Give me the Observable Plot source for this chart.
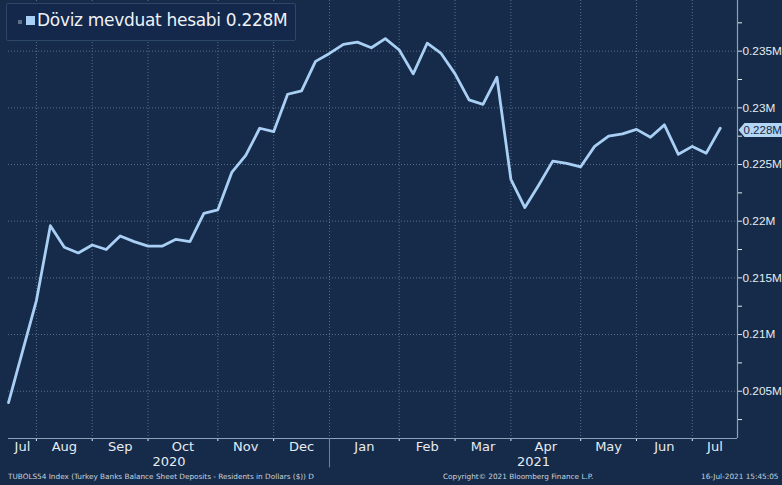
<!DOCTYPE html>
<html>
<head>
<meta charset="utf-8">
<script src="https://cdn.jsdelivr.net/npm/d3@7"></script>
<script src="https://cdn.jsdelivr.net/npm/@observablehq/plot@0.6"></script>
<style>
  html, body { margin: 0; padding: 0; background: #152b49; }
  #wrap { position: relative; width: 782px; height: 485px; overflow: hidden; background: #152b49; font-family: "DejaVu Sans", sans-serif; }
  #legend { position: absolute; left: 6px; top: 3px; width: 288px; height: 36px; border: 1px solid #2d4766; background: #13284a; border-radius: 2px; }
  #legend .dim { position: absolute; left: 11px; top: 16px; width: 4px; height: 4px; background: #5d7088; }
  #legend .sw { position: absolute; left: 19px; top: 12px; width: 9px; height: 9px; background: #a9cff5; }
  #legend .txt { position: absolute; left: 30px; top: 6px; font-size: 17px; color: #eef2f7; white-space: nowrap; letter-spacing: -0.3px; }
  .foot { position: absolute; top: 472px; font-size: 7.3px; color: #c9d3de; white-space: nowrap; }
</style>
</head>
<body>
<div id="wrap">
  <div id="chart"></div>
  <div id="legend"><div class="dim"></div><div class="sw"></div><div class="txt" id="legtxt"></div></div>
  <div class="foot" style="left:8px">TUBOLS54 Index (Turkey Banks Balance Sheet Deposits - Residents in Dollars ($)) D</div>
  <div class="foot" style="left:443px">Copyright© 2021 Bloomberg Finance L.P.</div>
  <div class="foot" style="left:701px">16-Jul-2021 15:45:05</div>
</div>
<script>
// ---- data ----
const seriesName = "Döviz mevduat hesabi";
const dates = [
  "2020-07-24","2020-07-31","2020-08-07","2020-08-14","2020-08-21","2020-08-28",
  "2020-09-04","2020-09-11","2020-09-18","2020-09-25","2020-10-02","2020-10-09",
  "2020-10-16","2020-10-23","2020-10-30","2020-11-06","2020-11-13","2020-11-20",
  "2020-11-27","2020-12-04","2020-12-11","2020-12-18","2020-12-25","2021-01-01",
  "2021-01-08","2021-01-15","2021-01-22","2021-01-29","2021-02-05","2021-02-12",
  "2021-02-19","2021-02-26","2021-03-05","2021-03-12","2021-03-19","2021-03-26",
  "2021-04-02","2021-04-09","2021-04-16","2021-04-23","2021-04-30","2021-05-07",
  "2021-05-14","2021-05-21","2021-05-28","2021-06-04","2021-06-11","2021-06-18",
  "2021-06-25","2021-07-02","2021-07-09","2021-07-16"
];
const values = [
  0.2040, 0.2085, 0.2130, 0.2196, 0.2177, 0.2172,
  0.2179, 0.2175, 0.2187, 0.2182, 0.2178, 0.2178,
  0.2184, 0.2182, 0.2207, 0.2210, 0.2243, 0.2258,
  0.2282, 0.2279, 0.2312, 0.2315, 0.2341, 0.2348,
  0.2356, 0.2358, 0.2353, 0.2361, 0.2351, 0.2330,
  0.2357, 0.2348, 0.2330, 0.2307, 0.2303, 0.2327,
  0.2237, 0.2212, 0.2232, 0.2253, 0.2251, 0.2248,
  0.2266, 0.2275, 0.2277, 0.2281, 0.2274, 0.2285,
  0.2259, 0.2266, 0.2260, 0.2282
];
const tickDates = ["2020-08-07","2020-09-04","2020-10-02","2020-11-06","2020-12-04","2021-01-01",
                   "2021-02-05","2021-03-05","2021-04-02","2021-05-07","2021-06-04","2021-07-02"];
const monthLabels = ["Jul","Aug","Sep","Oct","Nov","Dec","Jan","Feb","Mar","Apr","May","Jun","Jul"];
const yearLabels = ["2020","2021"];
const yearStarts = ["2021-01-01"];
const yMajor = [0.205, 0.21, 0.215, 0.22, 0.225, 0.23, 0.235];
const yMinor = [0.2025, 0.2075, 0.2125, 0.2175, 0.2225, 0.2275, 0.2325, 0.2375];

// ---- build ----
const parse = d3.utcParse("%Y-%m-%d");
const data = dates.map((d, i) => ({date: parse(d), value: values[i]}));
const xStart = parse("2020-07-24");
const xEnd = new Date(Date.UTC(2021, 6, 24, 16));
const yDomain = [0.20083, 0.23947];
const ticks = tickDates.map(parse);
const bounds = [xStart, ...ticks, xEnd];
const monthData = monthLabels.map((m, i) => ({
  date: new Date((+bounds[i] + +bounds[i + 1]) / 2), label: m
}));
const ySep = parse(yearStarts[0]);
const yearData = [
  {date: new Date((+xStart + +ySep) / 2), label: yearLabels[0]},
  {date: new Date((+ySep + +xEnd) / 2), label: yearLabels[1]}
];
const fmt = v => (+v.toFixed(4)) + "M";
const last = data[data.length - 1];

const textColor = "#e6ecf2";
const gridColor = "#566f8c";
const frameColor = "#8aa2bb";
const lineColor = "#a9cff5";

const chart = Plot.plot({
  width: 782,
  height: 485,
  marginLeft: 8,
  marginRight: 45,
  marginTop: 0,
  marginBottom: 47,
  style: {background: "#152b49", color: textColor, fontFamily: "Liberation Sans, Arial, sans-serif", fontSize: "11.8px", overflow: "visible"},
  x: {type: "utc", domain: [xStart, xEnd], ticks: ticks, tickFormat: () => "", tickSize: 3, label: null},
  y: {domain: yDomain, axis: "right", ticks: [...yMajor, ...yMinor].sort(), tickSize: 4, tickPadding: 1,
      tickFormat: v => yMajor.some(m => Math.abs(m - v) < 1e-9) ? fmt(v) : "", label: null},
  marks: [
    Plot.ruleY(yMajor, {stroke: gridColor, strokeDasharray: "1,2", strokeWidth: 1}),
    Plot.ruleX(ticks, {stroke: gridColor, strokeDasharray: "1,2", strokeWidth: 1}),
    Plot.ruleX([xEnd], {stroke: frameColor, strokeWidth: 1.2}),
    Plot.ruleY([yDomain[0]], {stroke: frameColor, strokeWidth: 1.2}),
    Plot.line(data, {x: "date", y: "value", stroke: lineColor, strokeWidth: 2.8, strokeLinejoin: "round"}),
    Plot.text(monthData, {x: "date", text: "label", frameAnchor: "bottom", dy: 12, fill: textColor, fontSize: 13, fontFamily: "DejaVu Sans, sans-serif"}),
    Plot.text(yearData, {x: "date", text: "label", frameAnchor: "bottom", dy: 27, fill: textColor, fontSize: 13, fontFamily: "DejaVu Sans, sans-serif"}),
    Plot.ruleX([ySep], {y1: yDomain[0], y2: yDomain[0] - 0.0026, stroke: "#6f87a1", strokeWidth: 1})
  ]
});
document.getElementById("chart").appendChild(chart);
document.getElementById("legtxt").textContent = seriesName + " " + fmt(+last.value.toFixed(3));

// last-value tag on the right axis, positioned with the plot's own scales
const ys = chart.scale("y");
const yScale = ys.apply ? (v => ys.apply(v)) : d3.scaleLinear(ys.domain, ys.range);
const yy = yScale(+last.value.toFixed(3));
const xs = chart.scale("x");
const xScale = xs.apply ? (v => xs.apply(v)) : d3.scaleUtc(xs.domain, xs.range);
const xx = xScale(xEnd) + 1.5;
const svg = d3.select(chart);
const g = svg.append("g");
g.append("path")
  .attr("d", `M${xx},${yy} L${xx + 6},${yy - 7} L${xx + 60},${yy - 7} L${xx + 60},${yy + 7} L${xx + 6},${yy + 7} Z`)
  .attr("fill", "#b4d6f5");
g.append("text").attr("x", xx + 5).attr("y", yy).attr("dy", "0.36em")
  .attr("text-anchor", "start")
  .attr("fill", "#142a47").attr("font-size", 11.5).attr("font-family", "Liberation Sans, Arial, sans-serif")
  .text(fmt(+last.value.toFixed(3)));
</script>
</body>
</html>
